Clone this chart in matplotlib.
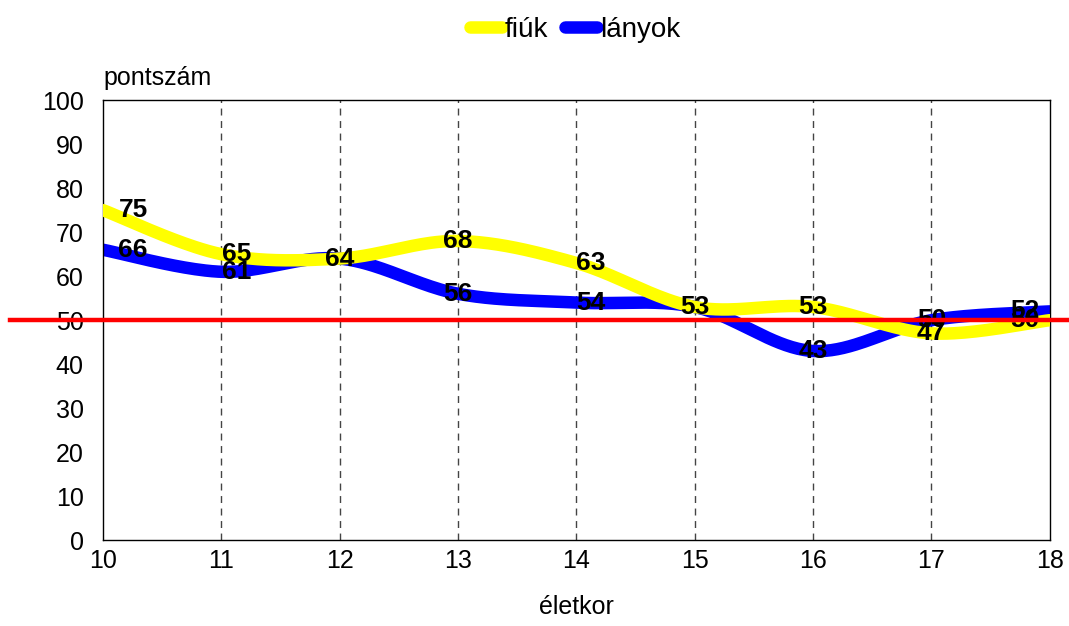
import numpy as np
import matplotlib
matplotlib.use("Agg")
import matplotlib.pyplot as plt
from matplotlib.lines import Line2D
import matplotlib.transforms as mtransforms

ages = [10, 11, 12, 13, 14, 15, 16, 17, 18]
fiuk = [75, 65, 64, 68, 63, 53, 53, 47, 50]
lanyok = [66, 61, 64, 56, 54, 53, 43, 50, 52]
ref_value = 50
yticks = list(range(0, 101, 10))

plt.rcParams['font.family'] = ['Liberation Sans', 'DejaVu Sans']


def smooth(x, y, n=40):
    x = np.asarray(x, float)
    y = np.asarray(y, float)
    P = np.column_stack([x, y])
    Pe = np.vstack([P[0], P, P[-1]])
    out = []
    for i in range(len(P) - 1):
        p0, p1, p2, p3 = Pe[i], Pe[i + 1], Pe[i + 2], Pe[i + 3]
        c1 = p1 + (p2 - p0) / 6.0
        c2 = p2 - (p3 - p1) / 6.0
        t = np.linspace(0, 1, n)[:, None]
        b = ((1 - t) ** 3) * p1 + 3 * ((1 - t) ** 2) * t * c1 + 3 * (1 - t) * t ** 2 * c2 + t ** 3 * p2
        out.append(b if i == 0 else b[1:])
    b = np.vstack(out)
    return b[:, 0], b[:, 1]


fig = plt.figure(figsize=(10.69, 6.26), dpi=100)
ax = fig.add_axes([0.0964, 0.137, 0.8856, 0.703])

ax.set_xlim(10, 18)
ax.set_ylim(0, 100)
ax.set_xticks(ages)
ax.set_yticks(yticks)
for xv in ages[1:-1]:
    ax.axvline(xv, color='#444444', lw=1, ls=(0, (5, 4)), zorder=1)

sx, sy = smooth(ages, fiuk)
ax.plot(sx, sy, color='#FFFF00', lw=9, solid_capstyle='round', zorder=3)
sx, sy = smooth(ages, lanyok)
ax.plot(sx, sy, color='#0000FF', lw=9, solid_capstyle='round', zorder=2)

trans = mtransforms.blended_transform_factory(fig.transFigure, ax.transData)
ax.add_line(Line2D([10 / 1069, 1.0], [ref_value, ref_value], transform=trans,
                   color='#FF0000', lw=3.2, clip_on=False, zorder=6))

offsets = [30, 15, 0, 0, 14, 0, 0, 0, -25]
for i, (a, f, l) in enumerate(zip(ages, fiuk, lanyok)):
    ax.annotate(str(f), (a, f), xytext=(offsets[i] * 0.72, 0), textcoords='offset points',
                ha='center', va='center', fontsize=19, fontweight='bold', zorder=5)
    if not (l == f):
        ax.annotate(str(l), (a, l), xytext=(offsets[i] * 0.72, 0), textcoords='offset points',
                    ha='center', va='center', fontsize=19, fontweight='bold', zorder=5)

ax.tick_params(axis='both', labelsize=18, length=0)
ax.tick_params(axis='y', pad=14)
ax.tick_params(axis='x', pad=6)
for s in ax.spines.values():
    s.set_color('black')
    s.set_linewidth(1)

ax.text(0.0, 1.022, 'pontszám', transform=ax.transAxes, fontsize=18, ha='left', va='bottom')
ax.set_xlabel('életkor', fontsize=18, labelpad=16)

handles = [Line2D([], [], color='#FFFF00', lw=9, solid_capstyle='round'),
           Line2D([], [], color='#0000FF', lw=9, solid_capstyle='round')]
fig.legend(handles, ['fiúk', 'lányok'], loc='center', bbox_to_anchor=(0.538, 0.952),
           ncol=2, frameon=False, fontsize=20, handlelength=1.15, handletextpad=0.1,
           columnspacing=0.6)

fig.savefig('out.png', dpi=100)
